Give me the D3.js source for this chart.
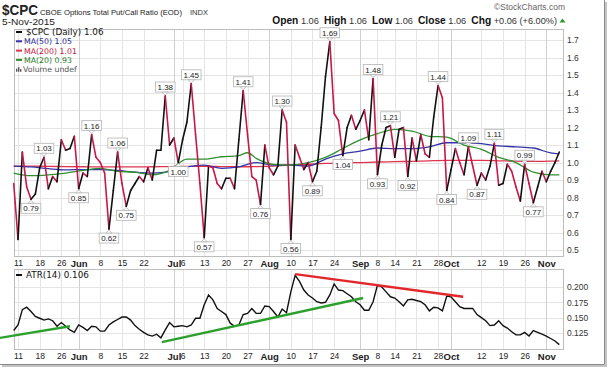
<!DOCTYPE html>
<html>
<head>
<meta charset="utf-8">
<script src="https://cdn.jsdelivr.net/npm/d3@7"></script>
<style>
  body { margin: 0; background: #fff; }
  svg { display: block; font-family: "Liberation Sans", Arial, sans-serif; }
</style>
</head>
<body>
<svg id="chart" width="609" height="368"></svg>
<script>
// trading days start here, skipping weekends and these holidays
const startDate = '2015-05-08';
const holidays = ['2015-05-25', '2015-07-03', '2015-09-07'];

// $CPC daily close
const cpc = [
    0.88, 0.56, 1.06, 0.86, 0.79, 0.82, 0.97, 1.03, 0.85, 0.92,
    0.89, 1.13, 1.07, 1.08, 1.15, 0.85, 0.94, 0.92, 1.16, 1.03,
    1.00, 0.94, 0.62, 0.84, 1.06, 0.88, 0.75, 0.84, 0.88, 0.92,
    0.89, 0.97, 0.90, 1.07, 1.07, 1.38, 1.10, 1.14, 1.00, 1.13,
    1.23, 1.45, 1.16, 0.88, 0.57, 0.98, 0.97, 0.88, 0.85, 0.91,
    0.91, 0.85, 1.13, 1.41, 1.16, 0.92, 0.90, 0.76, 1.10, 0.97,
    0.93, 0.98, 1.30, 1.23, 0.56, 1.10, 1.03, 0.96, 1.00, 0.89,
    0.95, 1.20, 1.49, 1.69, 1.28, 1.24, 1.04, 1.20, 1.27, 1.19,
    1.24, 1.30, 1.13, 1.48, 0.93, 1.10, 1.20, 1.21, 1.03, 1.19,
    1.20, 0.92, 1.14, 1.01, 1.16, 1.05, 1.03, 1.26, 1.44, 1.37,
    0.84, 0.96, 1.08, 1.00, 0.93, 1.09, 0.98, 0.87, 0.94, 0.90,
    0.98, 1.11, 0.87, 0.88, 0.99, 0.95, 0.86, 0.78, 0.99, 0.88,
    0.77, 0.86, 0.95, 0.89, 0.95, 1.00, 1.06
];

// moving averages, read at these trading-day positions
const maIdx = [0, 4, 8, 12, 16, 20, 24, 28, 32, 36, 40, 44, 48, 52, 54, 56, 60, 64, 68,
    72, 76, 80, 84, 88, 92, 96, 100, 104, 108, 112, 116, 120, 124, 126];
const ma20 = [0.94, 0.925, 0.93, 0.94, 0.955, 0.967, 0.95, 0.945, 0.93, 0.955, 1.02, 1.02,
    1.033, 1.04, 1.056, 1.024, 0.99, 0.986, 1.0, 1.03, 1.08, 1.13, 1.165, 1.19, 1.18, 1.15,
    1.145, 1.10, 1.075, 1.03, 1.0, 0.945, 0.93, 0.93];
const ma50 = [0.98, 0.975, 0.965, 0.958, 0.96, 0.96, 0.955, 0.945, 0.94, 0.948, 0.975, 0.985,
    0.967, 0.975, 0.99, 0.999, 0.985, 0.986, 0.98, 1.02, 1.05, 1.065, 1.083, 1.08, 1.08, 1.09,
    1.113, 1.113, 1.108, 1.095, 1.09, 1.083, 1.055, 1.05];
const ma200 = [0.98, 0.98, 0.978, 0.977, 0.976, 0.975, 0.975, 0.975, 0.976, 0.977, 0.978, 0.978,
    0.977, 0.976, 0.976, 0.977, 0.98, 0.985, 0.99, 0.995, 0.998, 1.0, 1.003, 1.005, 1.007, 1.01,
    1.012, 1.012, 1.012, 1.01, 1.008, 1.007, 1.008, 1.01];

// ATR(14)
const atr = [
    0.129, 0.138, 0.163, 0.167, 0.160, 0.152, 0.149, 0.146, 0.148, 0.145,
    0.136, 0.142, 0.136, 0.130, 0.126, 0.138, 0.134, 0.129, 0.136, 0.135,
    0.128, 0.128, 0.138, 0.143, 0.147, 0.151, 0.151, 0.146, 0.137, 0.131,
    0.126, 0.122, 0.120, 0.123, 0.117, 0.130, 0.142, 0.135, 0.136, 0.137,
    0.135, 0.138, 0.149, 0.149, 0.171, 0.187, 0.179, 0.165, 0.160, 0.155,
    0.141, 0.136, 0.138, 0.155, 0.157, 0.165, 0.157, 0.157, 0.169, 0.168,
    0.160, 0.151, 0.164, 0.158, 0.192, 0.219, 0.209, 0.195, 0.187, 0.182,
    0.176, 0.174, 0.175, 0.187, 0.205, 0.195, 0.194, 0.189, 0.184, 0.176,
    0.171, 0.162, 0.162, 0.176, 0.203, 0.200, 0.192, 0.184, 0.182, 0.176,
    0.169, 0.179, 0.180, 0.178, 0.176, 0.171, 0.161, 0.167, 0.166, 0.161,
    0.185, 0.184, 0.176, 0.168, 0.165, 0.165, 0.165, 0.155, 0.150, 0.145,
    0.137, 0.138, 0.145, 0.137, 0.133, 0.127, 0.122, 0.122, 0.126, 0.120,
    0.129, 0.126, 0.123, 0.120, 0.116, 0.112, 0.106
];

// labelled swing highs / lows (trading-day positions)
const peakIdx = [7, 18, 24, 35, 41, 53, 62, 73, 83, 87, 98, 105, 111, 118];
const troughIdx = [4, 15, 22, 26, 38, 44, 57, 64, 69, 76, 84, 91, 100, 107, 120];

// hand-drawn trend lines on the ATR pane: [trading-day position, ATR value]
const atrSupport1 = [[-3.2, 0.117], [13, 0.136]];
const atrSupport2 = [[34.2, 0.110], [80.7, 0.182]];
const atrResistance = [[65, 0.221], [103.8, 0.184]];

const tickDates = ['2015-05-11', '2015-05-18', '2015-05-26', '2015-06-01', '2015-06-08',
    '2015-06-15', '2015-06-22', '2015-07-01', '2015-07-06', '2015-07-13', '2015-07-20',
    '2015-07-27', '2015-08-03', '2015-08-10', '2015-08-17', '2015-08-24', '2015-09-01',
    '2015-09-08', '2015-09-14', '2015-09-21', '2015-09-28', '2015-10-01', '2015-10-12',
    '2015-10-19', '2015-10-26', '2015-11-02'];
const tickLabels = ['11', '18', '26', 'Jun', '8', '15', '22', 'Jul', '6', '13', '20', '27',
    'Aug', '10', '17', '24', 'Sep', '8', '14', '21', '28', 'Oct', '12', '19', '26', 'Nov'];

const priceTicks = [0.5, 0.6, 0.7, 0.8, 0.9, 1.0, 1.1, 1.2, 1.3, 1.4, 1.5, 1.6, 1.7];
const atrTicks = [0.125, 0.150, 0.175, 0.200];

// ---------------------------------------------------------------
const parseDay = d3.utcParse('%Y-%m-%d');
const fmtDay = d3.utcFormat('%Y-%m-%d');
const days = [];
let cur = parseDay(startDate);
while (days.length < cpc.length) {
    const wd = cur.getUTCDay();
    if (wd !== 0 && wd !== 6 && !holidays.includes(fmtDay(cur))) days.push(fmtDay(cur));
    cur = d3.utcDay.offset(cur, 1);
}
const tickIdx = tickDates.map(t => days.indexOf(t));

const left = 14, right = 563;
const main = { top: 29, bottom: 256 };
const lower = { top: 269, bottom: 349 };

const x = d3.scaleLinear().domain([0, cpc.length - 1]).range([13.7, 559.3]);
const y = d3.scaleLinear().domain([0.466, 1.763]).range([main.bottom, main.top]);
const yAtr = d3.scaleLinear().domain([0.0989, 0.2293]).range([lower.bottom, lower.top]);

const svg = d3.select('#chart');

const upColor = '#111111';
const downColor = '#c8174a';
const ma20Color = '#2f8f2f';
const ma50Color = '#3434a8';
const ma200Color = '#de3450';

// outer frame with a bit of shadow
svg.append('line').attr('x1', 604.5).attr('x2', 604.5).attr('y1', 0).attr('y2', 364.5)
    .attr('stroke', '#8a8a8a').attr('stroke-width', 1);
svg.append('line').attr('x1', 0).attr('x2', 604.5).attr('y1', 364.5).attr('y2', 364.5)
    .attr('stroke', '#8a8a8a').attr('stroke-width', 1);
svg.append('line').attr('x1', 606).attr('x2', 606).attr('y1', 2).attr('y2', 366)
    .attr('stroke', '#c4c4c4').attr('stroke-width', 2);
svg.append('line').attr('x1', 2).attr('x2', 607).attr('y1', 366).attr('y2', 366)
    .attr('stroke', '#c4c4c4').attr('stroke-width', 2);

// header
svg.append('text').attr('x', 2).attr('y', 14.5).attr('font-size', 14).attr('font-weight', 'bold')
    .attr('fill', '#222').attr('textLength', 36).attr('lengthAdjust', 'spacingAndGlyphs').text('$CPC');
svg.append('text').attr('x', 40).attr('y', 14.5).attr('font-size', 8).attr('fill', '#222')
    .attr('textLength', 142).attr('lengthAdjust', 'spacingAndGlyphs')
    .text('CBOE Options Total Put/Call Ratio (EOD)');
svg.append('text').attr('x', 190).attr('y', 14.5).attr('font-size', 7).attr('fill', '#333')
    .attr('textLength', 18).attr('lengthAdjust', 'spacingAndGlyphs').text('INDX');
svg.append('text').attr('x', 2).attr('y', 25).attr('font-size', 8.5).attr('fill', '#222')
    .attr('textLength', 53).attr('lengthAdjust', 'spacingAndGlyphs')
    .text(d3.utcFormat('%-d-%b-%Y')(parseDay(days[days.length - 1])));
svg.append('text').attr('x', 565).attr('y', 10).attr('font-size', 8.5).attr('fill', '#666')
    .attr('text-anchor', 'end').text('\u00a9StockCharts.com');

const last = cpc[cpc.length - 1], prev = cpc[cpc.length - 2];
const f2 = d3.format('.2f');
const chg = last - prev;
const ohlc = svg.append('text').attr('x', 557).attr('y', 23.5).attr('text-anchor', 'end')
    .attr('fill', '#222').attr('style', 'white-space:pre');
[['Open', true], [' ' + f2(last) + '  ', false], ['High', true], [' ' + f2(last) + '  ', false],
 ['Low', true], [' ' + f2(last) + '  ', false], ['Close', true], [' ' + f2(last) + '  ', false],
 ['Chg', true], [' ' + d3.format('+.2f')(chg) + ' (' + d3.format('+.2f')(chg / prev * 100) + '%)', false]]
    .forEach(([t, bold]) => {
        ohlc.append('tspan').attr('font-size', bold ? 10.2 : 9.2)
            .attr('font-weight', bold ? 'bold' : 'normal')
            .attr('fill', bold ? '#111' : '#333')
            .text(t);
    });
svg.append('path').attr('d', 'M559.5,22.5 L565.5,22.5 L562.5,18.5 Z').attr('fill', '#2a9a2a');

// panel backgrounds, grid, frames
function drawPanel(p, yScale, ticks) {
    svg.append('rect').attr('x', left).attr('y', p.top).attr('width', right - left)
        .attr('height', p.bottom - p.top).attr('fill', '#fff');
    svg.append('g').selectAll('line').data(ticks).enter().append('line')
        .attr('x1', left).attr('x2', right)
        .attr('y1', d => Math.round(yScale(d)) + 0.5).attr('y2', d => Math.round(yScale(d)) + 0.5)
        .attr('stroke', '#e4e4e4');
    svg.append('g').selectAll('line').data(tickIdx).enter().append('line')
        .attr('x1', d => Math.round(x(d)) + 0.5).attr('x2', d => Math.round(x(d)) + 0.5)
        .attr('y1', p.top).attr('y2', p.bottom)
        .attr('stroke', (d, i) => isNaN(+tickLabels[i]) ? '#cfcfcf' : '#e4e4e4');
    svg.append('rect').attr('x', left + 0.5).attr('y', p.top + 0.5).attr('width', right - left)
        .attr('height', p.bottom - p.top).attr('fill', 'none').attr('stroke', '#bdbdbd');
}
drawPanel(main, y, priceTicks);
drawPanel(lower, yAtr, atrTicks);

// right-hand axes
function styleAxis(g) {
    g.select('.domain').remove();
    g.selectAll('text').attr('fill', '#333').attr('font-size', 8.5)
        .attr('font-family', '"Liberation Sans", Arial, sans-serif');
}
svg.append('g').attr('transform', `translate(${right},0)`)
    .call(d3.axisRight(y).tickValues(priceTicks).tickSize(0).tickPadding(4).tickFormat(d3.format('.1f')))
    .call(styleAxis);
svg.append('g').attr('transform', `translate(${right},0)`)
    .call(d3.axisRight(yAtr).tickValues(atrTicks).tickSize(0).tickPadding(4).tickFormat(d3.format('.3f')))
    .call(styleAxis);

// date axes under both panes
function dateAxis(yPos) {
    const g = svg.append('g').attr('transform', `translate(0,${yPos})`)
        .call(d3.axisBottom(x).tickValues(tickIdx).tickSize(0).tickPadding(4)
            .tickFormat((d, i) => tickLabels[i]));
    g.select('.domain').remove();
    g.selectAll('text').attr('fill', '#222')
        .attr('font-family', '"Liberation Sans", Arial, sans-serif')
        .attr('font-size', (d, i) => isNaN(+tickLabels[i]) ? 9.5 : 8.5)
        .attr('font-weight', (d, i) => isNaN(+tickLabels[i]) ? 'bold' : 'normal');
}
dateAxis(main.bottom);
dateAxis(lower.bottom);

// moving averages
function maLine(vals, color) {
    const line = d3.line().x((d, i) => x(maIdx[i])).y(d => y(d)).curve(d3.curveMonotoneX);
    svg.append('path').datum(vals).attr('d', line).attr('fill', 'none')
        .attr('stroke', color).attr('stroke-width', 1.3);
}
maLine(ma200, ma200Color);
maLine(ma50, ma50Color);
maLine(ma20, ma20Color);

// price line, black on up days and red on down days
const segs = d3.range(1, cpc.length).map(i => ({ a: i - 1, b: i }));
svg.append('g').selectAll('line').data(segs).enter().append('line')
    .attr('x1', d => x(d.a)).attr('y1', d => y(cpc[d.a]))
    .attr('x2', d => x(d.b)).attr('y2', d => y(cpc[d.b]))
    .attr('stroke', d => cpc[d.b] >= cpc[d.a] ? upColor : downColor)
    .attr('stroke-width', 1.6).attr('stroke-linecap', 'round');

// value flags on swing highs and lows
function flag(i, above) {
    const tx = x(i), ty = y(cpc[i]);
    const g = svg.append('g');
    const t = g.append('text').attr('x', tx).attr('text-anchor', 'middle')
        .attr('font-size', 8).attr('fill', '#222').text(f2(cpc[i]));
    const w = t.node().getComputedTextLength() + 4, h = 10;
    const by = above ? ty - 4 - h : ty + 4;
    g.insert('rect', 'text').attr('x', tx - w / 2).attr('y', by).attr('width', w).attr('height', h)
        .attr('fill', '#fff').attr('stroke', '#b4b4b4').attr('stroke-width', 0.8);
    const py = above ? ty - 4 : ty + 4;
    g.insert('path', 'text').attr('d', `M${tx - 3},${py} L${tx + 3},${py} L${tx},${above ? ty - 1 : ty + 1} Z`)
        .attr('fill', '#fff').attr('stroke', '#b4b4b4').attr('stroke-width', 0.8);
    t.attr('y', by + 8);
}
peakIdx.forEach(i => flag(i, true));
troughIdx.forEach(i => flag(i, false));

// legend of upper pane
const legend = [
    { name: '$CPC (Daily) ' + f2(last), color: '#111', text: '#111', size: 8.8 },
    { name: 'MA(50) ' + f2(ma50[ma50.length - 1]), color: ma50Color, text: '#1f1f96', size: 7.8 },
    { name: 'MA(200) ' + f2(ma200[ma200.length - 1]), color: ma200Color, text: '#c4143c', size: 7.8 },
    { name: 'MA(20) ' + f2(ma20[ma20.length - 1]), color: ma20Color, text: '#237a23', size: 7.8 }
];
legend.forEach((d, i) => {
    const ly = 32 + i * 9.3;
    svg.append('rect').attr('x', 16).attr('y', ly - 1).attr('width', 6).attr('height', 2).attr('fill', d.color);
    svg.append('text').attr('x', i === 0 ? 26 : 24).attr('y', ly + 3)
        .attr('font-family', '"DejaVu Sans", Verdana, sans-serif').attr('font-size', d.size)
        .attr('fill', d.text).text(d.name);
});
const vy = 32 + 4 * 9.3;
[[16, 3], [18, 4.5], [20, 2.5]].forEach(([bx, bh]) => {
    svg.append('rect').attr('x', bx).attr('y', vy + 2.5 - bh).attr('width', 1.4).attr('height', bh).attr('fill', '#555');
});
svg.append('text').attr('x', 23).attr('y', vy + 3)
    .attr('font-family', '"DejaVu Sans", Verdana, sans-serif').attr('font-size', 7.8)
    .attr('fill', '#555').text('Volume undef');

// ATR pane
svg.append('path').datum(atr)
    .attr('d', d3.line().x((d, i) => x(i)).y(d => yAtr(d)))
    .attr('fill', 'none').attr('stroke', '#111').attr('stroke-width', 1.4);

[[atrSupport1, '#2ca02c'], [atrSupport2, '#2ca02c'], [atrResistance, '#e3262a']].forEach(([pts, c]) => {
    svg.append('line')
        .attr('x1', x(pts[0][0])).attr('y1', yAtr(pts[0][1]))
        .attr('x2', x(pts[1][0])).attr('y2', yAtr(pts[1][1]))
        .attr('stroke', c).attr('stroke-width', 2.4);
});

svg.append('rect').attr('x', 16).attr('y', 274).attr('width', 6).attr('height', 2).attr('fill', '#111');
svg.append('text').attr('x', 26).attr('y', 278)
    .attr('font-family', '"DejaVu Sans", Verdana, sans-serif').attr('font-size', 8.8)
    .attr('fill', '#111').text('ATR(14) ' + d3.format('.3f')(atr[atr.length - 1]));
</script>
</body>
</html>
